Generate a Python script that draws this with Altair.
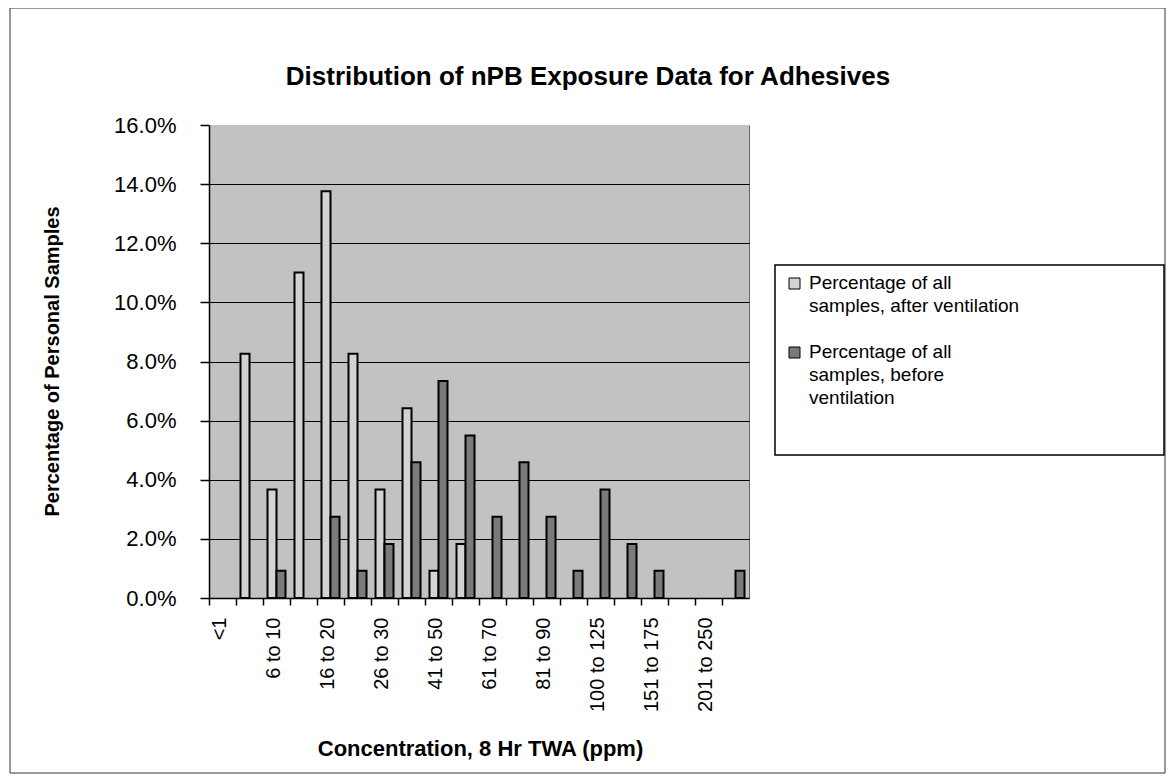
import altair as alt
import pandas as pd

# ---------------- data ----------------
categories = ["<1", "1 to 5", "6 to 10", "11 to 15", "16 to 20", "21 to 25",
              "26 to 30", "31 to 40", "41 to 50", "51 to 60", "61 to 70",
              "71 to 80", "81 to 90", "91 to 99", "100 to 125", "126 to 150",
              "151 to 175", "176 to 200", "201 to 250", ">250"]
shown_labels = ["<1", "6 to 10", "16 to 20", "26 to 30", "41 to 50",
                "61 to 70", "81 to 90", "100 to 125", "151 to 175", "201 to 250"]
series = ["Percentage of all samples, after ventilation",
          "Percentage of all samples, before ventilation"]
legend_lines = [["Percentage of all", "samples, after ventilation"],
                ["Percentage of all", "samples, before", "ventilation"]]
after_vals = [0.0, 0.0826, 0.0367, 0.1101, 0.1376, 0.0826, 0.0367, 0.0642,
              0.0092, 0.0183, 0.0, 0.0, 0.0, 0.0, 0.0, 0.0, 0.0, 0.0, 0.0, 0.0]
before_vals = [0.0, 0.0, 0.0092, 0.0, 0.0275, 0.0092, 0.0183, 0.0459,
               0.0734, 0.0550, 0.0275, 0.0459, 0.0275, 0.0092, 0.0367, 0.0183,
               0.0092, 0.0, 0.0, 0.0092]
y_ticks = [0.0, 0.02, 0.04, 0.06, 0.08, 0.10, 0.12, 0.14, 0.16]

title_text = "Distribution of nPB Exposure Data for Adhesives"
x_title = "Concentration, 8 Hr TWA (ppm)"
y_title = "Percentage of Personal Samples"

rows = []
for c, a, b in zip(categories, after_vals, before_vals):
    rows.append({"category": c, "series": series[0], "value": a})
    rows.append({"category": c, "series": series[1], "value": b})
df = pd.DataFrame(rows)

# ---------------- style ----------------
FONT = "Liberation Sans"
W, H = 540, 473
PAD = {"left": 201, "top": 117, "right": 418, "bottom": 177}
BG = "#c2c2c2"
COLORS = ["#d3d3d3", "#7a7a7a"]

label_expr = ("indexof([" + ",".join("'" + c + "'" for c in shown_labels) +
              "], datum.value) >= 0 ? datum.label : ''")

one = alt.Data(values=[{"k": 1}])

border = alt.Chart(one).mark_rect(fillOpacity=0, stroke="#333333", strokeWidth=1).encode(
    x=alt.value(-199), x2=alt.value(956), y=alt.value(-117), y2=alt.value(648)
)

legend_layers = [
    alt.Chart(one).mark_rect(fill="white", stroke="black", strokeWidth=1.5).encode(
        x=alt.value(566), x2=alt.value(955), y=alt.value(140), y2=alt.value(330)
    )
]
entry_y = [158, 227]
for i, s in enumerate(series):
    legend_layers.append(
        alt.Chart(one).mark_rect(fill=COLORS[i], stroke="black", strokeWidth=1).encode(
            x=alt.value(580), x2=alt.value(591),
            y=alt.value(entry_y[i] - 5), y2=alt.value(entry_y[i] + 6)
        )
    )
    legend_layers.append(
        alt.Chart(one).mark_text(
            text=legend_lines[i], font=FONT, fontSize=19, lineHeight=23,
            align="left", baseline="middle", color="black"
        ).encode(x=alt.value(600), y=alt.value(entry_y[i]))
    )

title = alt.Chart(one).mark_text(
    text=title_text, font=FONT, fontSize=26, fontWeight="bold",
    align="center", baseline="middle", color="black"
).encode(x=alt.value(379), y=alt.value(-48))

bars = alt.Chart(df).transform_filter("datum.value > 0").mark_bar(
    stroke="black", strokeWidth=2
).encode(
    x=alt.X("category:N", sort=categories,
            scale=alt.Scale(domain=categories, paddingInner=0, paddingOuter=0),
            axis=alt.Axis(bandPosition=0, labelOffset=-3, labelAngle=270,
                          labelFontSize=20, labelPadding=12, tickSize=7,
                          labelExpr=label_expr, labelOverlap=False,
                          domainColor="black", domainWidth=1.5,
                          tickColor="black", tickWidth=1.5,
                          title=x_title, titleFontSize=22, titleFontWeight="bold",
                          titleX=271, titleY=150, titleAlign="center",
                          titleBaseline="middle")),
    xOffset=alt.XOffset("series:N",
                        scale=alt.Scale(domain=series, paddingInner=0, paddingOuter=0.5)),
    y=alt.Y("value:Q", scale=alt.Scale(domain=[0, 0.16], nice=False),
            axis=alt.Axis(values=y_ticks, format=".1%", labelFontSize=22,
                          labelPadding=24, tickSize=9, grid=True,
                          gridColor={"condition": {"test": "datum.value >= 0.159",
                                                   "value": BG},
                                     "value": "black"},
                          gridWidth=1.2, domainColor="black", domainWidth=1.5,
                          tickColor="black", tickWidth=1.5,
                          title=y_title, titleX=-157, titleY=236, titleAngle=270,
                          titleAlign="center", titleBaseline="middle",
                          titleFontSize=20, titleFontWeight="bold")),
    color=alt.Color("series:N",
                    scale=alt.Scale(domain=series, range=COLORS),
                    legend=None),
)

chart = alt.layer(border, *legend_layers, bars, title).properties(
    width=W, height=H, padding=PAD,
    autosize=alt.AutoSizeParams(type="none"),
    background="white",
).configure_view(
    fill=BG, stroke="#666666", strokeWidth=1
).configure_axis(
    labelFont=FONT, titleFont=FONT, labelColor="black", titleColor="black"
)

chart.save("out.html", embed_options={"renderer": "svg", "actions": False})
